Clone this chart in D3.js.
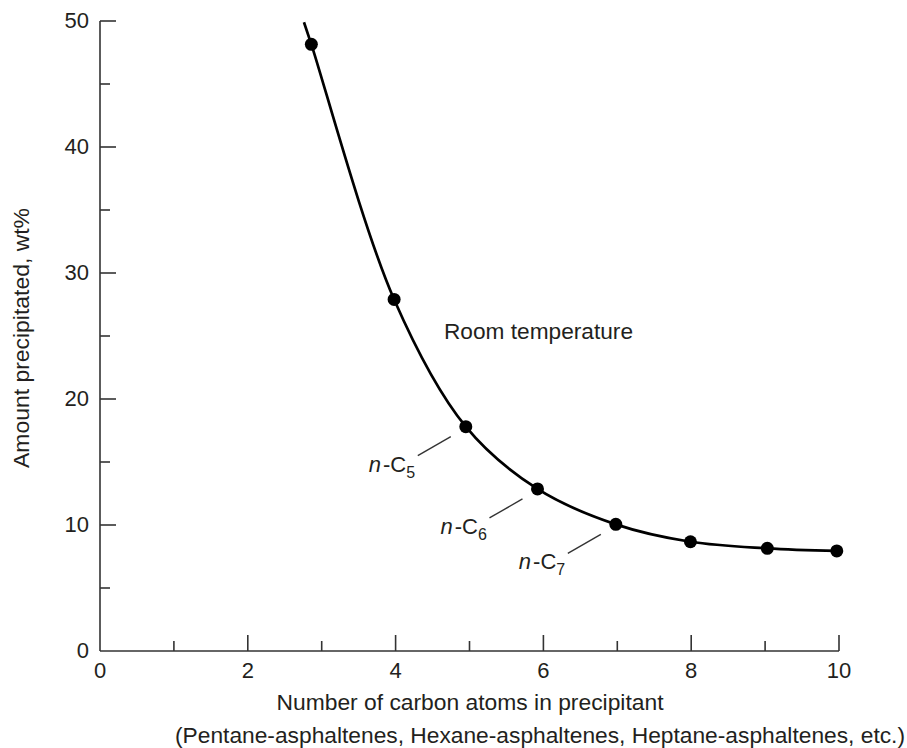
<!DOCTYPE html>
<html lang="en">
<head>
  <meta charset="UTF-8">
  <title>Amount precipitated vs carbon number</title>
  <script src="https://d3js.org/d3.v7.min.js"></script>
  <style>
    body { margin: 0; background: #fff; }
    svg text { font-family: "Liberation Sans", Arial, Helvetica, sans-serif; fill: #231f20; }
  </style>
</head>
<body>
  <svg width="907" height="748"></svg>
  <script>
    // measured points (carbon number, wt%)
    const carbonNum = [2.86, 3.98, 4.95, 5.92, 6.98, 7.99, 9.03, 9.97];
    const amount = [48.15, 27.9, 17.8, 12.86, 10.05, 8.67, 8.15, 7.94];

    // smooth curve drawn through the points, starting at the top of the frame
    const curveX = [2.76, 2.86, 3.98, 4.95, 5.92, 6.98, 7.99, 9.03, 9.97];
    const curveY = [49.9, 48.15, 27.9, 17.8, 12.86, 10.05, 8.67, 8.15, 7.94];

    // labelled points (index into the arrays above)
    const labelIdx = [2, 3, 4];
    const labelSub = ["5", "6", "7"];

    const xTicks = d3.range(0, 11, 1);
    const yTicks = d3.range(0, 51, 5);

    const svg = d3.select("svg");
    const x = d3.scaleLinear().domain([0, 10]).range([100, 839]);
    const y = d3.scaleLinear().domain([0, 50]).range([651, 21]);

    const axisColor = "#333";

    // axis lines
    svg.append("line")
      .attr("x1", x(0)).attr("x2", x(0)).attr("y1", y(50)).attr("y2", y(0))
      .attr("stroke", axisColor).attr("stroke-width", 1.6);
    svg.append("line")
      .attr("x1", x(0)).attr("x2", x(10)).attr("y1", y(0)).attr("y2", y(0))
      .attr("stroke", axisColor).attr("stroke-width", 1.6);

    // y ticks, pointing inward
    svg.selectAll(".ytick").data(yTicks.filter(d => d > 0)).enter().append("line")
      .attr("class", "ytick")
      .attr("x1", x(0)).attr("x2", d => x(0) + (d % 10 === 0 ? 16 : 10))
      .attr("y1", d => y(d)).attr("y2", d => y(d))
      .attr("stroke", axisColor).attr("stroke-width", 1.6);
    svg.selectAll(".ylab").data(yTicks.filter(d => d % 10 === 0)).enter().append("text")
      .attr("class", "ylab")
      .attr("x", 89).attr("y", d => y(d) + 7)
      .attr("text-anchor", "end").attr("font-size", 22)
      .text(d => d);

    // x ticks
    svg.selectAll(".xtick").data(xTicks.filter(d => d > 0)).enter().append("line")
      .attr("class", "xtick")
      .attr("x1", d => x(d)).attr("x2", d => x(d))
      .attr("y1", y(0)).attr("y2", d => y(0) - (d % 2 === 0 ? 16 : 10))
      .attr("stroke", axisColor).attr("stroke-width", 1.6);
    svg.selectAll(".xlab").data(xTicks.filter(d => d % 2 === 0)).enter().append("text")
      .attr("class", "xlab")
      .attr("x", d => x(d)).attr("y", 678)
      .attr("text-anchor", "middle").attr("font-size", 22)
      .text(d => d);

    // axis titles
    svg.append("text")
      .attr("transform", "translate(29,338) rotate(-90)")
      .attr("text-anchor", "middle").attr("font-size", 22)
      .attr("textLength", 260).attr("lengthAdjust", "spacingAndGlyphs")
      .text("Amount precipitated, wt%");
    svg.append("text")
      .attr("x", 470).attr("y", 710)
      .attr("text-anchor", "middle").attr("font-size", 22)
      .attr("textLength", 387).attr("lengthAdjust", "spacingAndGlyphs")
      .text("Number of carbon atoms in precipitant");
    svg.append("text")
      .attr("x", 540).attr("y", 743)
      .attr("text-anchor", "middle").attr("font-size", 22)
      .attr("textLength", 730).attr("lengthAdjust", "spacingAndGlyphs")
      .text("(Pentane-asphaltenes, Hexane-asphaltenes, Heptane-asphaltenes, etc.)");

    // curve
    const curveData = curveX.map((d, i) => [d, curveY[i]]);
    svg.append("path")
      .datum(curveData)
      .attr("fill", "none").attr("stroke", "#000").attr("stroke-width", 2.7)
      .attr("d", d3.line().x(d => x(d[0])).y(d => y(d[1])).curve(d3.curveCatmullRom.alpha(0.5)));

    // points
    svg.selectAll(".pt").data(carbonNum).enter().append("circle")
      .attr("class", "pt")
      .attr("cx", d => x(d)).attr("cy", (d, i) => y(amount[i]))
      .attr("r", 6.5).attr("fill", "#000");

    // annotation
    svg.append("text")
      .attr("x", 444).attr("y", 339).attr("font-size", 22)
      .attr("textLength", 189).attr("lengthAdjust", "spacingAndGlyphs")
      .text("Room temperature");

    labelIdx.forEach((idx, k) => {
      const px = x(carbonNum[idx]), py = y(amount[idx]);
      svg.append("line")
        .attr("x1", px - 48).attr("y1", py + 29)
        .attr("x2", px - 15).attr("y2", py + 10)
        .attr("stroke", "#333").attr("stroke-width", 1.4);
      const t = svg.append("text")
        .attr("x", px - 97).attr("y", py + 45).attr("font-size", 22);
      t.append("tspan").attr("font-style", "italic").text("n");
      t.append("tspan").attr("dx", 2).text("-C");
      t.append("tspan").attr("font-size", 16).attr("dy", 6).text(labelSub[k]);
    });
  </script>
</body>
</html>
